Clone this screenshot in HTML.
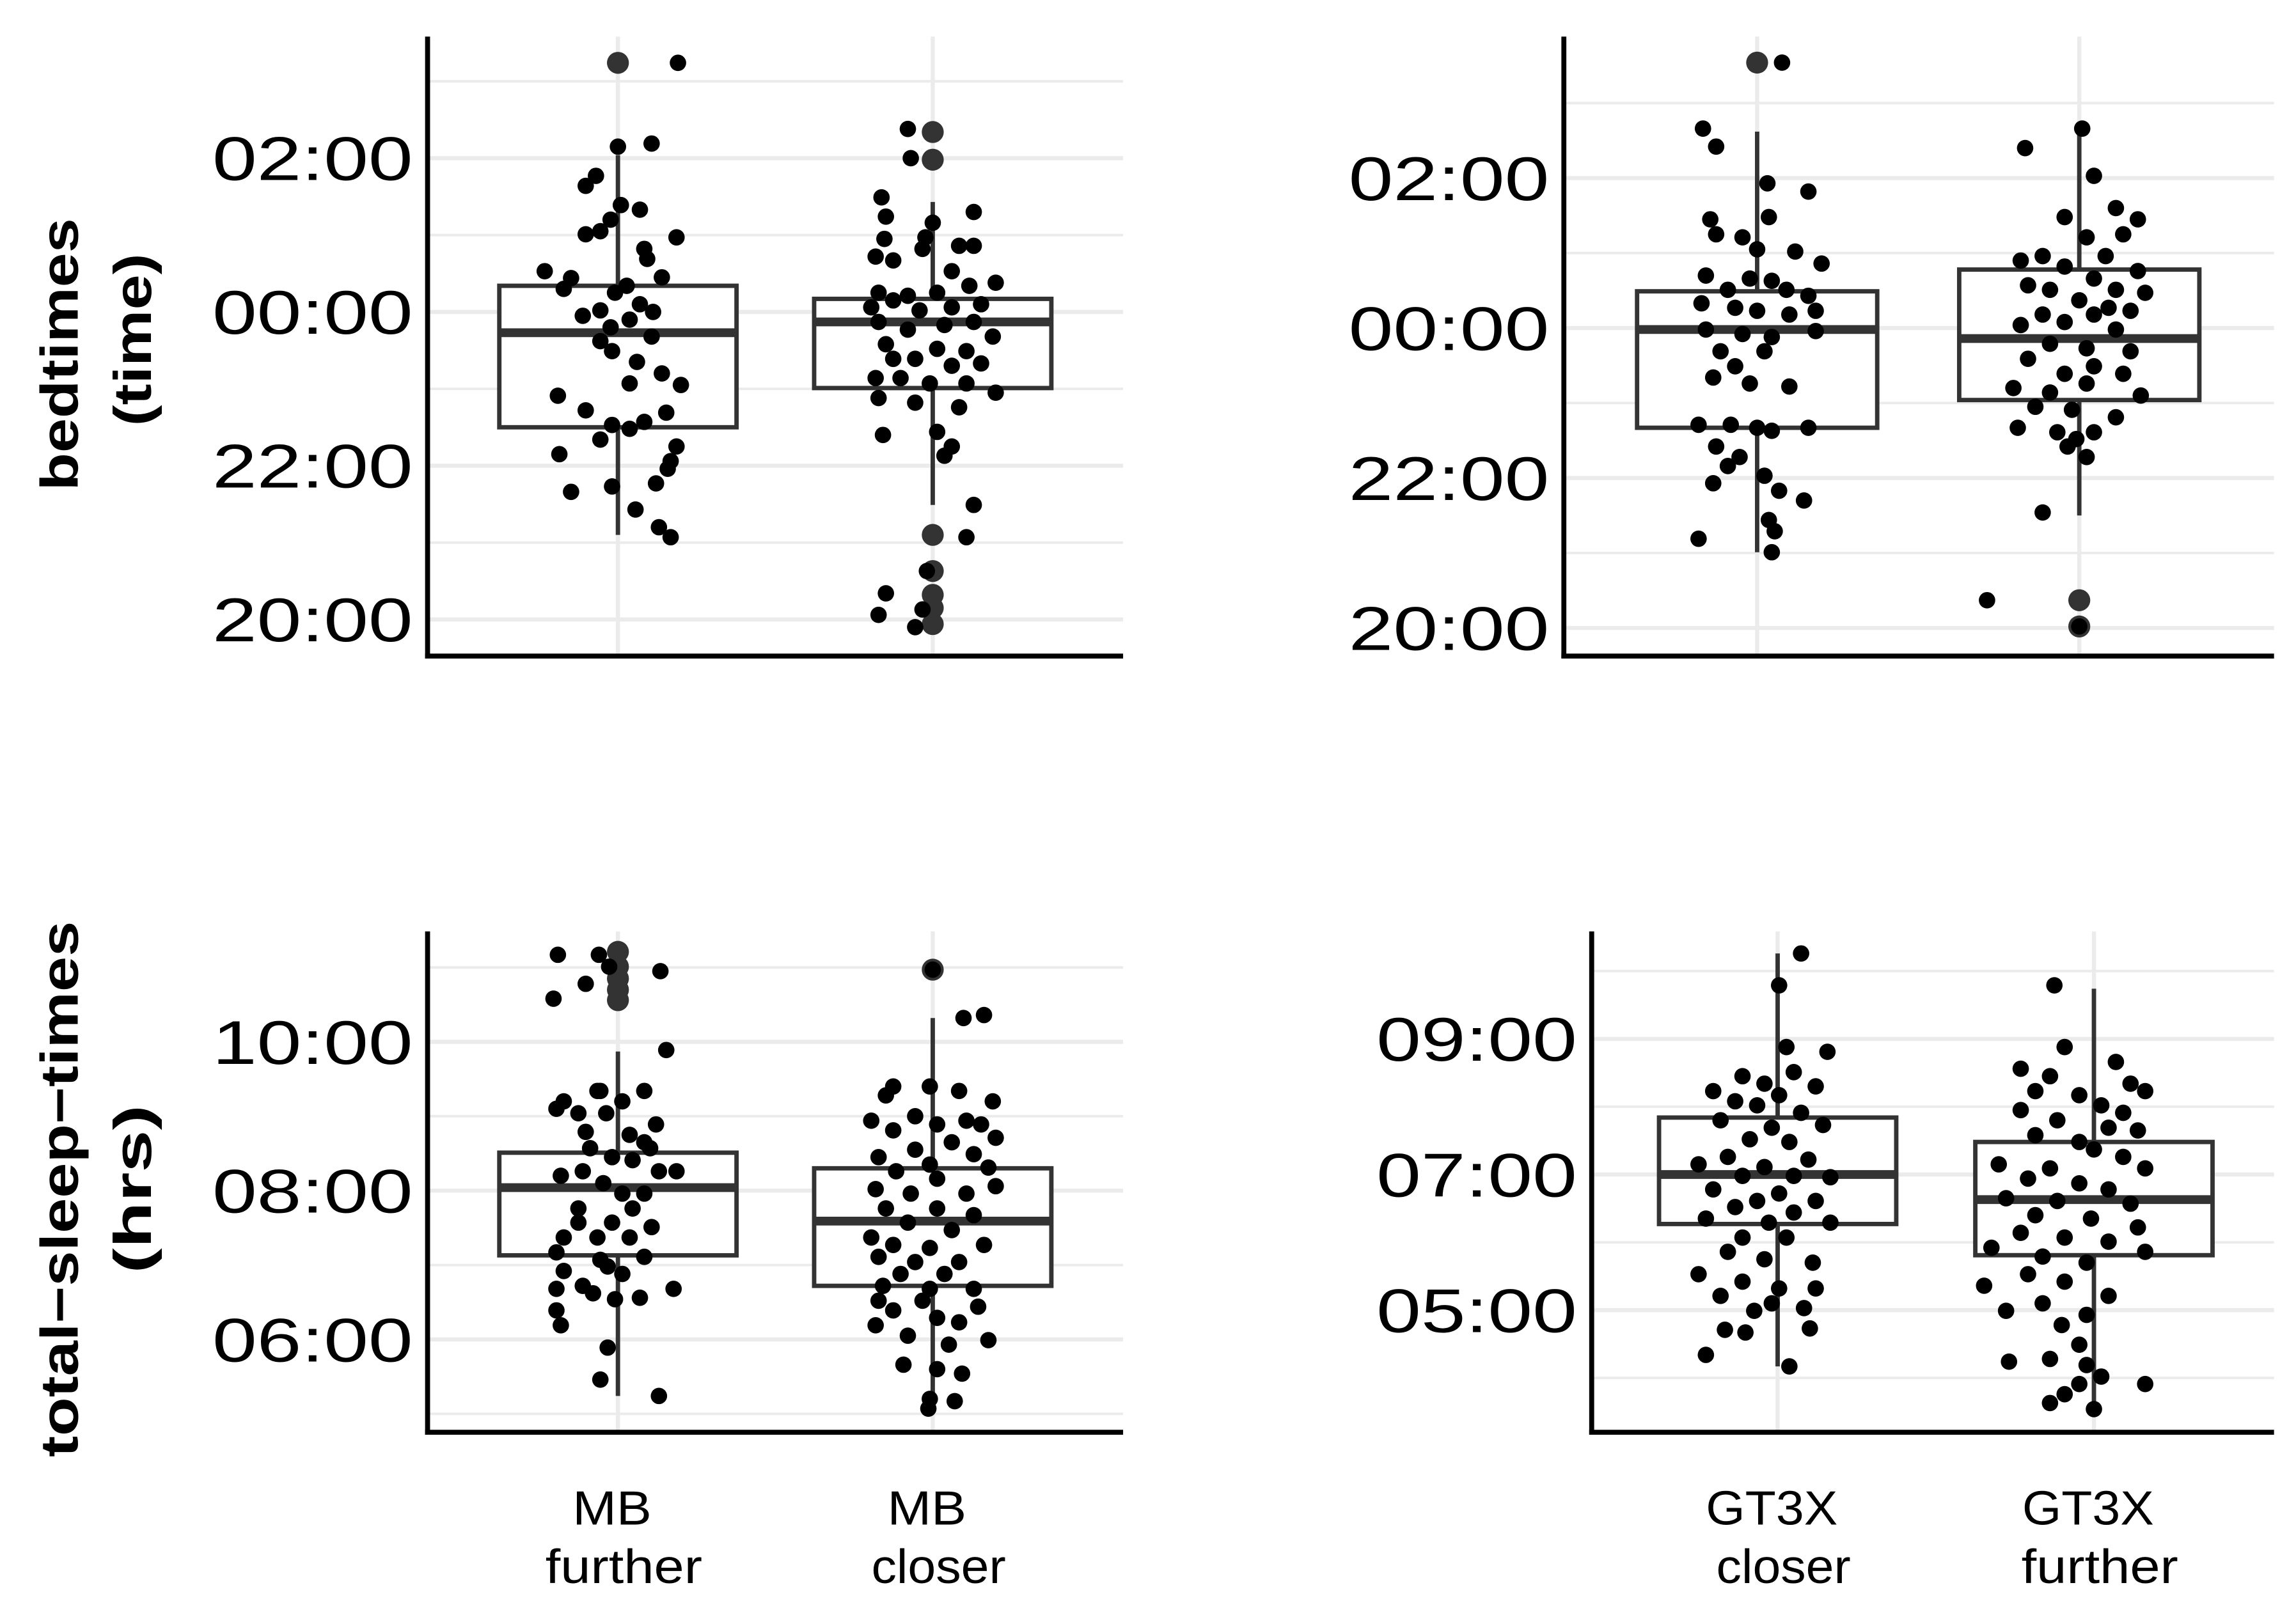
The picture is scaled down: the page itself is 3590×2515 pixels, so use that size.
<!DOCTYPE html>
<html><head><meta charset="utf-8"><style>html,body{margin:0;padding:0;background:#fff}svg{display:block}text{font-family:"Liberation Sans",Arial,sans-serif}</style></head>
<body>
<svg id="chart" width="3590" height="2515" viewBox="0 0 1568 1098" preserveAspectRatio="none" xmlns="http://www.w3.org/2000/svg">
<rect width="1568" height="1098" fill="#fff"/>
<text transform="translate(53,242) rotate(-90)" text-anchor="middle" font-weight="bold" font-size="36" textLength="186" lengthAdjust="spacingAndGlyphs">bedtimes</text>
<text transform="translate(103,232) rotate(-90)" text-anchor="middle" font-weight="bold" font-size="36" textLength="118" lengthAdjust="spacingAndGlyphs">(time)</text>
<text transform="translate(53,812) rotate(-90)" text-anchor="middle" font-weight="bold" font-size="36" textLength="366" lengthAdjust="spacingAndGlyphs">total−sleep−times</text>
<text transform="translate(103,812) rotate(-90)" text-anchor="middle" font-weight="bold" font-size="36" textLength="115" lengthAdjust="spacingAndGlyphs">(hrs)</text>
</svg>
<script>
// ---------- data ----------
const catsLeft = ["MB further", "MB closer"];
const catsRight = ["GT3X closer", "GT3X further"];
const bedTicksLeft = ["02:00","00:00","22:00","20:00"];
const bedTickVals = [26,24,22,20];
const tstTicksLeft = ["10:00","08:00","06:00"];
const tstTickValsLeft = [10,8,6];
const tstTicksRight = ["09:00","07:00","05:00"];
const tstTickValsRight = [9,7,5];
// box stats: [whiskerLow, q1, median, q3, whiskerHigh]
const p1Box1 = [21.10,22.50,23.73,24.34,26.04];
const p1Box2 = [21.49,23.01,23.87,24.17,25.43];
const p2Box1 = [21.01,22.67,23.98,24.49,26.62];
const p2Box2 = [21.50,23.04,23.86,24.78,26.66];
const p3Box1 = [5.24,7.13,8.04,8.51,9.87];
const p3Box2 = [5.05,6.72,7.59,8.30,10.32];
const p4Box1 = [4.17,6.27,7.00,7.84,10.26];
const p4Box2 = [3.63,5.81,6.63,7.48,9.74];
// outliers
const p1Out1 = [27.24];
const p1Out2 = [26.34,25.98,21.10,20.63,20.32,20.15,19.94];
const p2Out1 = [27.54];
const p2Out2 = [20.37,20.02];
const p3Out1 = [11.21,11.01,10.85,10.70,10.56];
const p3Out2 = [10.97];
const p4Out1 = [];
const p4Out2 = [];
// jittered points
const p1Vals1 = [27.24,26.15,26.19,25.77,25.64,25.39,25.33,25.2,25.01,25.05,24.97,24.82,24.69,24.53,24.44,24.34,24.25,24.1,24.02,23.9,23.68,23.62,23.49,23.35,23.2,23.07,23.05,22.91,22.72,22.69,22.57,22.53,22.48,22.34,22.25,22.15,22.06,21.96,21.77,21.73,21.66,21.43,21.2,21.07,24.3,24.0,23.95,24.45,23.8];
const p1Jit1 = [41,0,23,-15,-22,2,15,-5,-22,-12,40,18,20,-50,-32,6,-2,15,-12,8,23,-12,-4,13,30,8,43,-41,-22,33,18,-4,8,-12,40,-40,36,34,26,-4,-32,12,28,36,-37,24,-24,30,-5];
const p1Vals2 = [26.38,26.0,25.49,25.24,25.3,25.16,24.95,24.97,24.82,24.86,24.86,24.72,24.67,24.53,24.34,24.25,24.21,24.25,24.38,24.06,24.15,24.02,24.06,24.1,23.87,23.77,23.83,23.87,23.68,23.58,23.52,23.49,23.39,23.39,23.3,23.33,23.14,23.14,23.07,23.07,22.95,22.88,22.82,22.76,22.4,22.44,22.25,22.13,21.49,21.07,20.34,20.06,20.13,19.9,20.63];
const p1Jit2 = [-17,-15,-35,-32,28,0,-33,-5,-7,18,28,-39,-27,13,25,-37,-17,3,43,-42,-27,-9,13,33,-37,-17,8,28,41,-32,3,23,-27,-12,13,33,-39,-22,-2,23,43,-37,-12,18,-34,3,13,8,28,23,-32,-37,-7,-12,-4];
const p2Vals1 = [27.54,26.66,26.42,25.93,25.82,25.45,25.25,25.21,25.48,25.05,24.86,25.02,24.7,24.66,24.63,24.51,24.51,24.43,24.23,24.33,24.27,24.23,24.18,23.98,23.92,23.88,23.96,23.69,23.69,23.49,23.34,23.26,23.22,22.71,22.71,22.67,22.67,22.63,22.42,22.28,22.16,22.03,21.93,21.83,21.7,21.44,21.29,21.19,21.01];
const p2Jit1 = [17,-37,-28,7,35,-32,-28,-10,8,0,44,26,-35,-5,10,-20,20,35,40,-38,-15,0,22,-35,-10,10,40,-25,5,-15,-30,-5,22,-18,-40,0,35,10,-28,-12,-20,5,-30,15,32,8,12,-40,10];
const p2Vals2 = [26.4,26.66,25.45,26.03,25.6,25.48,24.9,24.96,25.21,25.25,24.96,24.82,24.76,24.66,24.57,24.51,24.51,24.47,24.37,24.27,24.23,24.18,24.18,24.04,24.08,23.98,23.79,23.73,23.69,23.59,23.49,23.39,23.39,23.2,23.14,23.26,23.1,22.95,22.91,22.81,22.67,22.61,22.61,22.52,22.42,22.28,21.54,20.37,20.02];
const p2Jit2 = [-37,2,40,10,25,-10,-40,-25,5,30,18,-10,40,10,-35,-20,25,45,0,20,35,-25,10,-40,-10,25,-20,5,35,-35,10,-10,30,-45,-20,5,42,-30,-5,25,-42,-15,10,-2,-8,5,-25,-63,0];
const p3Vals1 = [11.17,11.17,10.95,10.78,10.58,11.01,9.89,9.34,9.2,9.1,9.34,9.34,9.2,9.04,9.04,8.89,8.79,8.75,8.65,8.57,8.57,8.45,8.41,8.2,8.26,8.26,8.26,8.1,7.96,7.96,7.76,7.76,7.57,7.57,7.51,7.37,7.37,7.37,7.17,7.07,7.11,6.98,6.92,6.88,6.72,6.68,6.68,6.62,6.54,6.39,6.56,6.19,5.89,5.46,5.24];
const p3Jit1 = [-41,-13,29,-22,-44,-6,33,-12,-37,-42,-14,18,3,-27,-8,26,-22,8,18,-19,22,-4,10,-39,-24,28,40,-10,3,18,-27,10,-27,-4,23,-37,-14,8,-42,-12,18,-7,-37,3,-24,-42,38,-17,-2,-42,15,-39,-7,-12,28];
const p3Vals2 = [10.97,10.32,10.36,9.4,9.28,9.4,9.34,9.2,8.94,9.0,8.94,8.89,8.89,8.81,8.71,8.65,8.55,8.45,8.49,8.35,8.26,8.31,8.16,8.02,7.96,7.96,8.06,7.76,7.76,7.67,7.57,7.37,7.47,7.27,7.23,7.27,7.11,7.04,7.04,6.88,6.88,6.72,6.68,6.68,6.52,6.52,6.39,6.44,6.29,6.19,6.23,6.05,5.99,5.93,5.66,5.6,5.54,5.2,5.17,5.07];
const p3Jit2 = [0,21,35,-27,-32,-2,18,41,23,-12,-42,3,33,-27,43,13,-12,-37,28,-2,-25,38,3,-39,-15,23,43,-32,3,28,-17,-42,13,-27,-2,35,-37,-12,18,-22,8,-34,-2,28,-37,-7,-27,31,3,-39,18,-17,38,11,-20,3,20,-2,15,-3];
const p4Vals1 = [10.26,9.79,8.88,8.81,8.45,8.34,8.51,8.23,8.17,8.3,8.08,8.02,7.91,7.8,7.69,7.73,7.52,7.48,7.26,7.22,7.15,7.11,6.98,6.98,6.96,6.78,6.72,6.61,6.61,6.52,6.44,6.35,6.29,6.29,6.07,6.07,5.86,5.75,5.7,5.53,5.42,5.32,5.21,5.32,5.1,4.99,5.03,4.71,4.34,4.67,4.73,4.17];
const p4Jit1 = [16,1,6,34,-24,-9,11,-44,1,26,-29,-14,16,-39,-4,31,-19,8,-34,21,-54,-9,-24,11,36,-44,1,-14,26,-29,11,-49,-6,36,-24,6,-34,-9,24,-54,-24,1,-39,26,-4,-16,18,-36,-49,-22,22,8];
const p4Vals2 = [9.79,8.88,8.56,8.45,8.66,8.34,8.23,8.17,8.23,8.02,7.95,7.91,7.8,7.69,7.65,7.58,7.48,7.37,7.26,7.15,7.09,7.09,6.94,6.87,6.78,6.65,6.61,6.57,6.4,6.35,6.22,6.14,6.07,6.01,5.92,5.79,5.86,5.7,5.53,5.42,5.36,5.21,5.1,4.99,4.93,4.78,4.49,4.28,4.19,4.02,4.24,3.91,3.76,3.91,3.63,3.54];
const p4Jit2 = [-27,-20,-50,-30,15,25,-40,-10,35,5,-50,20,-25,10,30,-40,-10,0,20,-65,-30,35,-45,-10,10,-60,-25,25,-40,-2,30,-50,-20,10,-70,-35,35,-5,-45,-20,-75,10,-35,-60,-5,-22,-10,-30,-5,5,-58,-10,-20,35,-30,0];

// ---------- rendering ----------
const NS = "http://www.w3.org/2000/svg";
const svg = document.getElementById("chart");
function mk(tag, attrs, parent) {
  const e = document.createElementNS(NS, tag);
  for (const k in attrs) e.setAttribute(k, attrs[k]);
  (parent || svg).appendChild(e);
  return e;
}
function panel(cfg) {
  const g = mk("g", {});
  
  
  const y = v => cfg.y0 - (v - cfg.v0) * cfg.pph;
  for (let v = Math.ceil(cfg.vmin); v <= cfg.vmax; v++) {
    const major = cfg.tickVals.some(t => Math.abs(((t - v) % 2 + 2) % 2) < 1e-9);
    const ln = mk("line", {x1: cfg.x0, x2: cfg.x1, y1: y(v), y2: y(v), stroke: "#ebebeb", "stroke-width": major ? 2.8 : 1.7}, g);
    
    
  }
  cfg.cx.forEach(c => {
    const ln = mk("line", {x1: c, x2: c, y1: cfg.top, y2: cfg.bot, stroke: "#ebebeb", "stroke-width": 2.8}, g);
    
    
  });
  cfg.ticks.forEach((t, i) => {
    const tx = mk("text", {x: cfg.x0 - 10, y: y(cfg.tickVals[i]) + 15, "text-anchor": "end", "font-size": 42, textLength: 137, lengthAdjust: "spacingAndGlyphs", fill: "#000"}, g);
    tx.textContent = t;
    
    
  });
  cfg.boxes.forEach((b, i) => {
    const c = cfg.cx[i], hw = cfg.hw;
    const bg = mk("g", {}, g);
    
    
    mk("line", {x1: c, x2: c, y1: y(b[0]), y2: y(b[4]), stroke: "#333", "stroke-width": 3}, bg);
    mk("rect", {x: c - hw, y: y(b[3]), width: 2 * hw, height: y(b[1]) - y(b[3]), fill: "#fff", stroke: "#333", "stroke-width": 3}, bg);
    mk("line", {x1: c - hw, x2: c + hw, y1: y(b[2]), y2: y(b[2]), stroke: "#333", "stroke-width": 6}, bg);
    cfg.outs[i].forEach(v => {
      const o = mk("circle", {cx: c, cy: y(v), r: 7.5, fill: "#333"}, bg);
      
      
    });
  });
  cfg.vals.forEach((arr, i) => {
    const jit = cfg.jits[i];
    arr.forEach((v, k) => {
      const p = mk("circle", {cx: cfg.cx[i] + jit[k % jit.length], cy: y(v), r: 5.6, fill: "#000"}, g);
      
      
    });
  });
  const ya = mk("line", {x1: cfg.x0, x2: cfg.x0, y1: cfg.top, y2: cfg.bot + 1.7, stroke: "#000", "stroke-width": 3.4}, g);
  
  
  const xa = mk("line", {x1: cfg.x0 - 1.7, x2: cfg.x1, y1: cfg.bot, y2: cfg.bot, stroke: "#000", "stroke-width": 3.4}, g);
  
  
  if (cfg.cats) {
    cfg.cats.forEach((cat, i) => {
      const parts = cat.split(" ");
      const t1 = mk("text", {x: cfg.cx[i] - 4, y: 1041, "text-anchor": "middle", "font-size": 33, textLength: parts[0].length > 2 ? 90 : 54, lengthAdjust: "spacingAndGlyphs"}, g);
      t1.textContent = parts[0];
      
      
      const t2 = mk("text", {x: cfg.cx[i] + 4, y: 1081, "text-anchor": "middle", "font-size": 33, textLength: parts[1].length * 15.3, lengthAdjust: "spacingAndGlyphs"}, g);
      t2.textContent = parts[1];
      
      
    });
  }
}
panel({name: "panel-mb-bedtimes", x0: 292, x1: 767, top: 25, bot: 448, y0: 213, v0: 24, pph: 52.5, vmin: 19.6, vmax: 27.5,
  cx: [422, 637], hw: 81, ticks: bedTicksLeft, tickVals: bedTickVals,
  boxes: [p1Box1, p1Box2], outs: [p1Out1, p1Out2], vals: [p1Vals1, p1Vals2], jits: [p1Jit1, p1Jit2]});
panel({name: "panel-gt3x-bedtimes", x0: 1068, x1: 1553, top: 25, bot: 448, y0: 224, v0: 24, pph: 51.2, vmin: 19.7, vmax: 27.9,
  cx: [1200, 1420], hw: 82, ticks: bedTicksLeft, tickVals: bedTickVals,
  boxes: [p2Box1, p2Box2], outs: [p2Out1, p2Out2], vals: [p2Vals1, p2Vals2], jits: [p2Jit1, p2Jit2]});
panel({name: "panel-mb-total-sleep", x0: 292, x1: 767, top: 636, bot: 978, y0: 813, v0: 8, pph: 50.8, vmin: 5, vmax: 11.4,
  cx: [422, 637], hw: 81, ticks: tstTicksLeft, tickVals: tstTickValsLeft,
  boxes: [p3Box1, p3Box2], outs: [p3Out1, p3Out2], vals: [p3Vals1, p3Vals2], jits: [p3Jit1, p3Jit2], cats: catsLeft});
panel({name: "panel-gt3x-total-sleep", x0: 1087, x1: 1553, top: 636, bot: 978, y0: 802, v0: 7, pph: 46.3, vmin: 3.5, vmax: 10.6,
  cx: [1214, 1430], hw: 81, ticks: tstTicksRight, tickVals: tstTickValsRight,
  boxes: [p4Box1, p4Box2], outs: [p4Out1, p4Out2], vals: [p4Vals1, p4Vals2], jits: [p4Jit1, p4Jit2], cats: catsRight});
</script>
</body></html>
